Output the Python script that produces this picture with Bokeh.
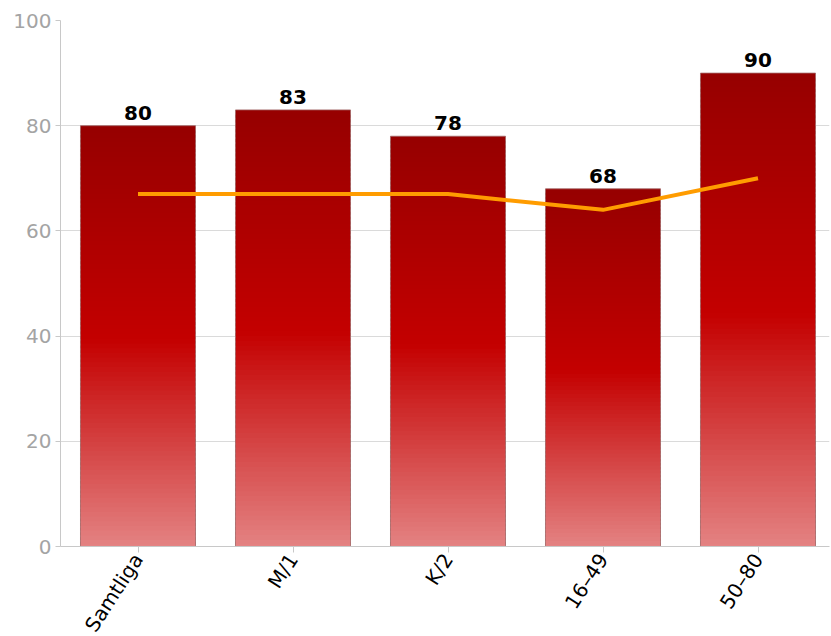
from bokeh.plotting import figure
from bokeh.models import ColumnDataSource, FixedTicker, Range1d
from bokeh.embed import file_html
from bokeh.resources import INLINE
from bokeh.core.properties import value
import math

categories = ["Samtliga", "M/1", "K/2", "16–49", "50–80"]
bar_values = [80, 83, 78, 68, 90]
line_values = [67, 67, 67, 64, 70]

FONT = "DejaVu Sans"
FRAME_W = 769
SLOT = 155.0
BAR_W = 0.742

xpos = list(range(len(categories)))

p = figure(x_range=Range1d(-0.5, -0.5 + FRAME_W / SLOT), y_range=(0, 100),
           frame_width=FRAME_W, frame_height=526,
           min_border_left=60, min_border_top=20, min_border_right=1, min_border_bottom=88,
           output_backend="svg", toolbar_location=None)
p.outline_line_color = None

# gradient stops: (fraction from bottom, rgb)
stops = [(0.0, (0xe4, 0x84, 0x84)), (0.5, (0xc4, 0x00, 0x00)), (1.0, (0x96, 0x00, 0x00))]

def grad(f):
    for (f0, c0), (f1, c1) in zip(stops[:-1], stops[1:]):
        if f0 <= f <= f1:
            t = (f - f0) / (f1 - f0)
            return "#%02x%02x%02x" % tuple(int(round(a + (b - a) * t)) for a, b in zip(c0, c1))
    return "#%02x%02x%02x" % stops[-1][1]

n = 90
xs, bots, tops, cols = [], [], [], []
for xi, v in zip(xpos, bar_values):
    step = v / n
    for k in range(n):
        b = k * step
        t = (k + 1) * step
        if k > 0:
            b -= step * 0.6
        xs.append(xi); bots.append(b); tops.append(t)
        cols.append(grad((k + 0.5) / n))

p.vbar(x=xs, bottom=bots, top=tops, width=BAR_W, fill_color=cols, line_color=None)

src = ColumnDataSource(dict(x=xpos, top=bar_values, line=line_values,
                            lab=[str(v) for v in bar_values]))
p.vbar(x="x", top="top", width=BAR_W, source=src, fill_color=None,
       line_color="#a06464", line_width=1, line_alpha=0.8)

p.line(x="x", y="line", source=src, line_color="#ff9c00", line_width=4)

p.text(x="x", y="top", text="lab", source=src, text_align="center",
       text_baseline="bottom", y_offset=-6, text_font=value(FONT),
       text_font_size="20px", text_font_style="bold", text_color="#000000")

# axes
p.yaxis.ticker = FixedTicker(ticks=[0, 20, 40, 60, 80, 100])
p.yaxis.major_label_text_font = FONT
p.yaxis.major_label_text_font_size = "20px"
p.yaxis.major_label_text_color = "#a4a4a4"
p.yaxis.axis_line_color = "#c8c8c8"
p.yaxis.major_tick_line_color = "#c8c8c8"
p.yaxis.major_tick_out = 5
p.yaxis.major_tick_in = 0
p.yaxis.minor_tick_line_color = None
p.yaxis.major_label_standoff = 4

p.xaxis.ticker = FixedTicker(ticks=xpos)
p.xaxis.major_label_overrides = {i: c for i, c in zip(xpos, categories)}
p.xaxis.major_label_orientation = math.radians(57)
p.xaxis.major_label_text_font = FONT
p.xaxis.major_label_text_font_size = "20px"
p.xaxis.major_label_text_color = "#000000"
p.xaxis.axis_line_color = "#c8c8c8"
p.xaxis.major_tick_line_color = "#c8c8c8"
p.xaxis.major_tick_out = 6
p.xaxis.major_tick_in = 0
p.xaxis.minor_tick_line_color = None
p.xaxis.major_label_standoff = 3

p.xgrid.grid_line_color = None
p.ygrid.grid_line_color = "#dadada"
p.ygrid.grid_line_width = 1

open("out.html", "w").write(file_html(p, INLINE))
